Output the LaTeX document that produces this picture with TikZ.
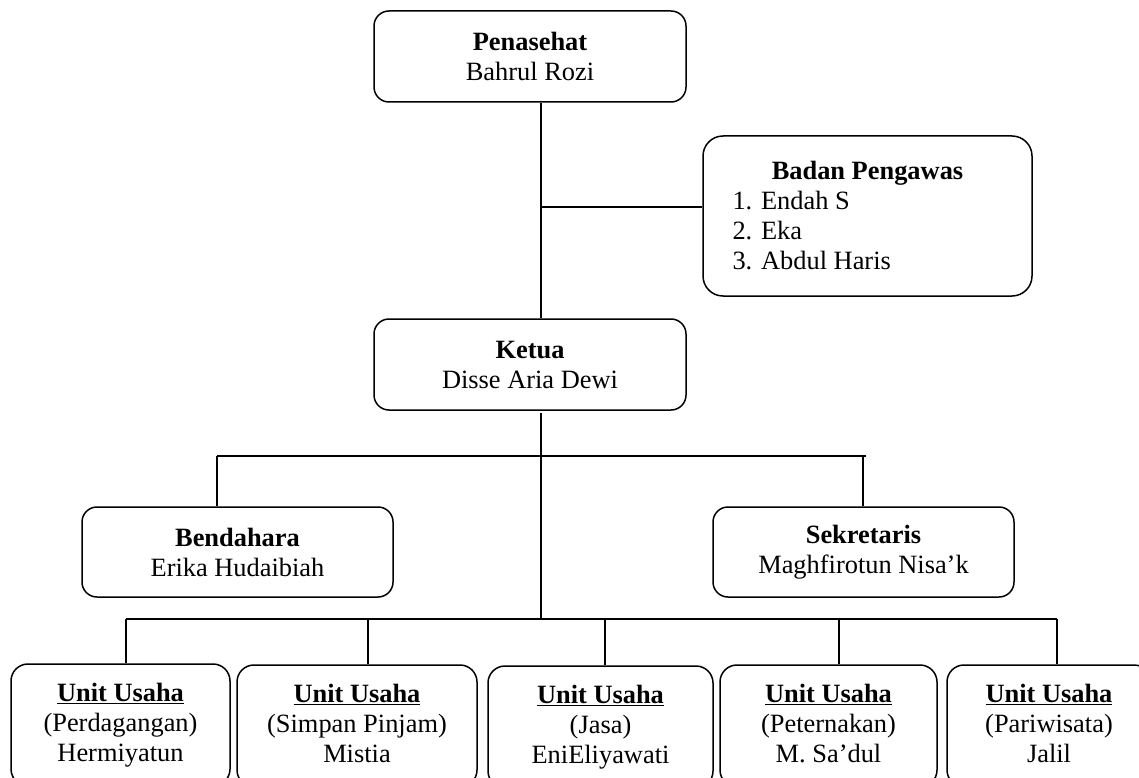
\documentclass[tikz,border=0pt]{standalone}
\usepackage{fontspec}
\setmainfont{Liberation Serif}
\begin{document}
\begin{tikzpicture}[x=1pt,y=-1pt,
  box/.style={draw, line width=1.5pt, rounded corners=15pt, align=center, inner sep=0pt,
              font=\fontsize{26.4}{30}\selectfont},
  unitbox/.style={box, rounded corners=17pt, minimum height=122pt},
  conn/.style={line width=1.5pt}]
\clip (0,0) rectangle (1139,778);
% boxes
\node[box, minimum width=312pt, minimum height=91pt] (pen) at (530,56.5)
  {\textbf{Penasehat}\\Bahrul Rozi};
\node[box, rounded corners=20pt, minimum width=329pt, minimum height=160pt] (bp) at (867.5,216)
  {\textbf{Badan Pengawas}\\\makebox[270pt][l]{1. Endah S}\\\makebox[270pt][l]{2. Eka}\\\makebox[270pt][l]{3. Abdul Haris}};
\node[box, minimum width=312pt, minimum height=91pt] (ket) at (530,364.5)
  {\textbf{Ketua}\\Disse Aria Dewi};
\node[box, minimum width=311pt, minimum height=90pt] (ben) at (237.5,552)
  {\textbf{Bendahara}\\Erika Hudaibiah};
\node[box, minimum width=301pt, minimum height=90pt] (sek) at (863.5,552)
  {\textbf{Sekretaris}\\Maghfirotun Nisa’k};
\node[unitbox, minimum width=219pt] (u1) at (120.5,725)
  {\textbf{\underline{Unit Usaha}}\\(Perdagangan)\\Hermiyatun};
\node[unitbox, minimum width=240pt] (u2) at (357,726)
  {\textbf{\underline{Unit Usaha}}\\(Simpan Pinjam)\\Mistia\vphantom{y}};
\node[unitbox, minimum width=225pt] (u3) at (600.5,727)
  {\textbf{\underline{Unit Usaha}}\\(Jasa)\\EniEliyawati};
\node[unitbox, minimum width=217pt] (u4) at (828.5,726)
  {\textbf{\underline{Unit Usaha}}\\(Peternakan)\\M. Sa’dul\vphantom{y}};
\node[unitbox, minimum width=204pt] (u5) at (1049,726)
  {\textbf{\underline{Unit Usaha}}\\(Pariwisata)\\Jalil\vphantom{y}};
% connector points
\coordinate (jb) at (541,207);
\coordinate (k1) at (541,413);
\coordinate (kc) at (541,619);
\coordinate (mL) at (217,456);
\coordinate (mR) at (866,456);
\coordinate (mS) at (863,456);
\coordinate (b1) at (126,619);
\coordinate (b2) at (368,619);
\coordinate (b3) at (605,619);
\coordinate (b4) at (839,619);
\coordinate (b5) at (1057,619);
% connectors
\draw[conn] (pen.south -| jb) -- (ket.north -| jb);
\draw[conn] (jb) -- (bp.west |- jb);
\draw[conn] (k1) -- (kc);
\draw[conn] (mL) -- (mR);
\draw[conn] (mL) -- (ben.north -| mL);
\draw[conn] (mS) -- (sek.north -| mS);
\draw[conn] (b1) -- (b5);
\draw[conn] (b1) -- (u1.north -| b1);
\draw[conn] (b2) -- (u2.north -| b2);
\draw[conn] (b3) -- (u3.north -| b3);
\draw[conn] (b4) -- (u4.north -| b4);
\draw[conn] (b5) -- (u5.north -| b5);
\end{tikzpicture}
\end{document}
